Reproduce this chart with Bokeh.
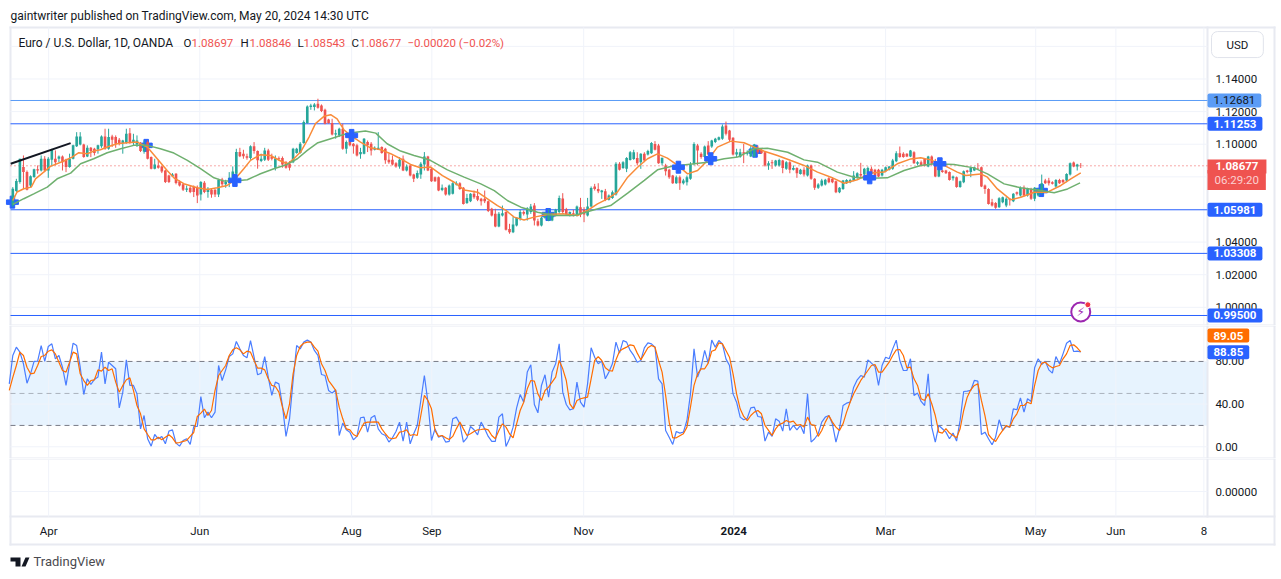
from bokeh.plotting import figure
from bokeh.layouts import column
from bokeh.models import Range1d, FixedTicker, LinearAxis, BoxAnnotation, Label, PolyAnnotation
from bokeh.embed import file_html
from bokeh.resources import INLINE

opens = [1.0625,1.0713,1.0768,1.0860,1.0829,1.0747,1.0799,1.0846,1.0839,1.0911,
1.0839,1.0905,1.0911,1.0911,1.0925,1.0907,1.0860,1.0911,1.0987,1.0999,
1.0999,1.0925,1.0978,1.0972,1.0968,1.0987,1.1048,1.0972,1.1048,1.1044,
1.1027,1.1007,1.1007,1.1068,1.1013,1.0999,1.1003,1.0956,1.1013,1.0921,
1.0850,1.0870,1.0864,1.0839,1.0809,1.0803,1.0819,1.0772,1.0754,1.0721,
1.0733,1.0737,1.0733,1.0692,1.0764,1.0707,1.0721,1.0721,1.0692,1.0784,
1.0754,1.0762,1.0768,1.0819,1.0952,1.0942,1.0927,1.0915,1.0987,1.0958,
1.0897,1.0905,1.0962,1.0921,1.0856,1.0915,1.0915,1.0890,1.0880,1.0890,
1.0946,1.0946,1.1007,1.1130,1.1228,1.1228,1.1248,1.1238,1.1211,1.1152,
1.1130,1.1060,1.1054,1.1095,1.0972,1.1048,1.1003,1.0993,1.0938,1.0942,
1.1013,1.1003,1.0966,1.0966,1.0983,1.0972,1.0905,1.0905,1.0884,1.0864,
1.0911,1.0839,1.0870,1.0815,1.0794,1.0815,1.0876,1.0925,
1.0849,1.0798,1.0798,1.0720,1.0733,1.0692,1.0696,1.0753,1.0761,1.0733,
1.0639,1.0651,1.0696,1.0682,1.0665,1.0665,1.0651,1.0604,1.0573,1.0496,
1.0563,1.0584,1.0481,1.0461,1.0502,1.0543,1.0584,1.0569,1.0584,1.0624,
1.0528,1.0502,1.0549,1.0532,1.0532,1.0563,1.0584,1.0667,1.0602,1.0563,
1.0577,1.0569,1.0614,1.0598,1.0563,1.0618,1.0741,1.0726,1.0706,1.0712,
1.0659,1.0671,1.0692,1.0880,1.0855,1.0849,1.0904,1.0910,1.0915,1.0890,
1.0941,1.0937,1.0945,1.1002,1.0992,1.0884,1.0870,1.0843,1.0808,1.0761,
1.0798,1.0761,1.0767,1.0788,1.0880,1.0992,1.0941,1.0921,1.0992,1.0986,
1.1013,1.1027,1.1033,1.1115,1.1084,1.1039,1.0937,1.0921,1.0951,1.0941,
1.0925,1.0925,1.0978,1.0966,1.0951,1.0870,1.0890,1.0870,1.0870,1.0900,
1.0849,1.0890,1.0843,1.0855,1.0818,1.0843,1.0808,1.0870,1.0788,1.0733,
1.0747,1.0753,
1.0792,1.0788,1.0773,1.0706,1.0726,1.0761,1.0767,1.0777,1.0794,1.0818,
1.0814,1.0818,1.0849,1.0843,1.0843,1.0808,1.0835,1.0843,1.0849,1.0896,
1.0945,1.0941,1.0941,1.0925,1.0951,1.0880,1.0890,1.0910,1.0863,1.0925,
1.0880,1.0802,1.0839,1.0839,1.0829,1.0792,1.0798,1.0737,1.0767,1.0839,
1.0829,1.0839,1.0855,1.0859,1.0747,1.0726,1.0645,1.0639,1.0614,1.0645,
1.0624,1.0665,1.0651,1.0706,1.0686,1.0733,1.0686,1.0726,1.0665,1.0686,
1.0700,1.0777,1.0777,1.0767,1.0741,1.0781,1.0781,1.0777,1.0814,1.0888,
1.0863,1.08697]

highs = [1.0737,1.0788,1.0911,1.0931,1.0839,1.0809,1.0850,1.0870,1.0931,1.0927,
1.0921,1.0972,1.0962,1.0931,1.0931,1.0911,1.0942,1.0997,1.1074,1.1074,
1.1003,1.0993,1.0983,1.0978,1.0997,1.1054,1.1095,1.1095,1.1058,1.1054,
1.1038,1.1027,1.1095,1.1099,1.1064,1.1054,1.1013,1.1023,1.1023,1.0925,
1.0911,1.0905,1.0870,1.0843,1.0813,1.0823,1.0823,1.0778,1.0762,1.0747,
1.0747,1.0747,1.0747,1.0774,1.0774,1.0737,1.0727,1.0725,1.0788,1.0794,
1.0782,1.0829,1.0864,1.0972,1.0978,1.0966,1.0942,1.0993,1.1013,1.0962,
1.0942,1.0978,1.0972,1.0942,1.0931,1.0925,1.0925,1.0897,1.0897,1.0978,
1.0978,1.1013,1.1146,1.1238,1.1248,1.1252,1.1279,1.1244,1.1218,1.1156,
1.1156,1.1089,1.1101,1.1126,1.1023,1.1054,1.1007,1.1003,1.0978,1.1038,
1.1023,1.1013,1.0987,1.1074,1.0987,1.0978,1.0942,1.0931,1.0890,1.0921,
1.0931,1.0876,1.0876,1.0819,1.0839,1.0890,1.0952,1.0929,
1.0855,1.0802,1.0802,1.0753,1.0737,1.0753,1.0767,1.0773,1.0767,1.0737,
1.0696,1.0700,1.0716,1.0726,1.0671,1.0716,1.0655,1.0610,1.0604,1.0584,
1.0624,1.0588,1.0512,1.0553,1.0553,1.0598,1.0594,1.0614,1.0634,1.0639,
1.0543,1.0557,1.0584,1.0602,1.0584,1.0604,1.0685,1.0700,1.0610,1.0588,
1.0598,1.0624,1.0671,1.0614,1.0671,1.0741,1.0757,1.0761,1.0720,1.0726,
1.0692,1.0716,1.0890,1.0890,1.0896,1.0921,1.0958,1.0966,1.0951,1.0945,
1.0951,1.0966,1.1013,1.1019,1.1002,1.0917,1.0880,1.0849,1.0812,1.0808,
1.0808,1.0788,1.0808,1.0890,1.1012,1.1002,1.0951,1.0992,1.1019,1.1027,
1.1039,1.1047,1.1121,1.1139,1.1088,1.1043,1.0972,1.0972,1.1002,1.0962,
1.0992,1.1002,1.0992,1.0972,1.0958,1.0896,1.0904,1.0904,1.0911,1.0904,
1.0896,1.0896,1.0870,1.0859,1.0849,1.0859,1.0875,1.0875,1.0792,1.0761,
1.0788,1.0788,
1.0798,1.0798,1.0777,1.0737,1.0781,1.0786,1.0788,1.0835,1.0828,1.0886,
1.0855,1.0863,1.0863,1.0849,1.0849,1.0849,1.0863,1.0867,1.0910,1.0957,
1.0986,1.0951,1.0945,1.0965,1.0957,1.0896,1.0900,1.0914,1.0929,1.0931,
1.0910,1.0890,1.0843,1.0843,1.0833,1.0808,1.0802,1.0777,1.0839,1.0843,
1.0863,1.0863,1.0884,1.0863,1.0753,1.0730,1.0665,1.0645,1.0675,1.0679,
1.0675,1.0669,1.0700,1.0710,1.0741,1.0747,1.0733,1.0733,1.0737,1.0733,
1.0814,1.0788,1.0794,1.0773,1.0786,1.0788,1.0786,1.0822,1.0888,1.0894,
1.0880,1.08846]

lows = [1.0615,1.0707,1.0758,1.0727,1.0717,1.0737,1.0794,1.0819,1.0833,1.0829,
1.0794,1.0864,1.0870,1.0890,1.0839,1.0829,1.0856,1.0907,1.0983,1.0993,
1.0917,1.0921,1.0921,1.0931,1.0942,1.0978,1.0966,1.0966,1.0983,1.0978,
1.0993,1.0942,1.1003,1.1003,1.0993,1.0983,1.0952,1.0942,1.0907,1.0846,
1.0846,1.0850,1.0823,1.0762,1.0762,1.0799,1.0754,1.0741,1.0713,1.0707,
1.0700,1.0676,1.0639,1.0655,1.0700,1.0672,1.0672,1.0676,1.0676,1.0741,
1.0733,1.0737,1.0758,1.0809,1.0921,1.0911,1.0905,1.0905,1.0942,1.0850,
1.0890,1.0897,1.0897,1.0901,1.0839,1.0901,1.0856,1.0850,1.0839,1.0884,
1.0942,1.0942,1.1003,1.1126,1.1211,1.1207,1.1218,1.1197,1.1122,1.1126,
1.1054,1.1034,1.1044,1.0966,1.0942,1.0987,1.0942,1.0925,1.0911,1.0938,
1.0952,1.0931,1.0962,1.0966,1.0942,1.0880,1.0880,1.0870,1.0856,1.0850,
1.0835,1.0833,1.0803,1.0768,1.0788,1.0788,1.0839,1.0835,
1.0769,1.0769,1.0712,1.0712,1.0685,1.0685,1.0692,1.0747,1.0720,1.0630,
1.0634,1.0645,1.0665,1.0651,1.0624,1.0639,1.0584,1.0557,1.0491,1.0491,
1.0557,1.0471,1.0451,1.0455,1.0496,1.0532,1.0563,1.0532,1.0573,1.0502,
1.0496,1.0496,1.0543,1.0528,1.0528,1.0557,1.0573,1.0577,1.0563,1.0557,
1.0557,1.0557,1.0553,1.0522,1.0557,1.0614,1.0716,1.0700,1.0665,1.0651,
1.0655,1.0665,1.0685,1.0839,1.0849,1.0829,1.0900,1.0904,1.0870,1.0849,
1.0890,1.0931,1.0941,1.0962,1.0880,1.0870,1.0808,1.0788,1.0757,1.0757,
1.0720,1.0753,1.0747,1.0782,1.0870,1.0870,1.0911,1.0917,1.0931,1.0978,
1.1007,1.1023,1.1027,1.1054,1.1013,1.0931,1.0921,1.0917,1.0884,1.0931,
1.0921,1.0921,1.0941,1.0941,1.0863,1.0843,1.0849,1.0863,1.0863,1.0822,
1.0843,1.0822,1.0839,1.0794,1.0814,1.0802,1.0802,1.0782,1.0720,1.0726,
1.0741,1.0747,
1.0761,1.0761,1.0700,1.0700,1.0720,1.0757,1.0761,1.0773,1.0788,1.0798,
1.0808,1.0808,1.0798,1.0798,1.0798,1.0802,1.0828,1.0839,1.0843,1.0890,
1.0917,1.0917,1.0921,1.0921,1.0880,1.0870,1.0863,1.0863,1.0859,1.0870,
1.0798,1.0798,1.0825,1.0818,1.0777,1.0777,1.0733,1.0733,1.0761,1.0822,
1.0798,1.0835,1.0843,1.0737,1.0696,1.0630,1.0618,1.0604,1.0610,1.0638,
1.0614,1.0624,1.0645,1.0686,1.0679,1.0679,1.0679,1.0659,1.0651,1.0679,
1.0692,1.0757,1.0747,1.0753,1.0733,1.0757,1.0761,1.0767,1.0808,1.0859,
1.0839,1.08543]

closes = [1.0727,1.0774,1.0911,1.0829,1.0721,1.0803,1.0846,1.0839,1.0911,1.0839,
1.0911,1.0966,1.0890,1.0925,1.0890,1.0860,1.0911,1.0993,1.1048,1.1048,
1.0921,1.0978,1.0958,1.0946,1.0993,1.1048,1.0972,1.1044,1.1027,1.1003,
1.1003,1.1023,1.1064,1.1013,1.1027,1.1023,1.0958,1.0993,1.0911,1.0850,
1.0876,1.0856,1.0833,1.0768,1.0768,1.0815,1.0762,1.0747,1.0721,1.0729,
1.0707,1.0707,1.0686,1.0768,1.0707,1.0727,1.0692,1.0692,1.0782,1.0754,
1.0768,1.0794,1.0833,1.0952,1.0927,1.0927,1.0917,1.0987,1.0958,1.0901,
1.0911,1.0962,1.0905,1.0911,1.0913,1.0911,1.0876,1.0856,1.0856,1.0972,
1.0972,1.1003,1.1136,1.1232,1.1238,1.1244,1.1224,1.1203,1.1126,1.1130,
1.1060,1.1068,1.1095,1.0972,1.1013,1.0993,1.0987,1.0931,1.0952,1.1034,
1.0993,1.0962,1.0978,1.0978,1.0946,1.0901,1.0890,1.0876,1.0864,1.0905,
1.0839,1.0864,1.0809,1.0788,1.0823,1.0880,1.0925,1.0839,
1.0773,1.0773,1.0716,1.0733,1.0692,1.0747,1.0761,1.0761,1.0726,1.0634,
1.0671,1.0696,1.0675,1.0659,1.0651,1.0651,1.0590,1.0563,1.0496,1.0573,
1.0577,1.0475,1.0461,1.0508,1.0549,1.0584,1.0573,1.0608,1.0618,1.0532,
1.0502,1.0549,1.0577,1.0569,1.0577,1.0598,1.0671,1.0584,1.0569,1.0584,
1.0569,1.0618,1.0569,1.0569,1.0618,1.0731,1.0726,1.0712,1.0716,1.0659,
1.0685,1.0706,1.0880,1.0843,1.0890,1.0915,1.0951,1.0951,1.0884,1.0941,
1.0900,1.0958,1.1007,1.0966,1.0884,1.0917,1.0835,1.0798,1.0761,1.0798,
1.0761,1.0778,1.0798,1.0876,1.1002,1.0962,1.0921,1.0986,1.0937,1.1023,
1.1033,1.1043,1.1109,1.1064,1.1027,1.0937,1.0951,1.0951,1.0941,1.0951,
1.0972,1.0998,1.0951,1.0945,1.0870,1.0884,1.0884,1.0900,1.0904,1.0855,
1.0890,1.0843,1.0855,1.0822,1.0843,1.0814,1.0870,1.0788,1.0733,1.0753,
1.0778,1.0782,
1.0767,1.0767,1.0706,1.0733,1.0777,1.0781,1.0781,1.0808,1.0822,1.0808,
1.0849,1.0855,1.0818,1.0802,1.0802,1.0843,1.0859,1.0863,1.0900,1.0945,
1.0921,1.0921,1.0925,1.0961,1.0884,1.0890,1.0870,1.0870,1.0925,1.0880,
1.0802,1.0849,1.0829,1.0822,1.0781,1.0802,1.0737,1.0773,1.0835,1.0829,
1.0855,1.0859,1.0851,1.0741,1.0726,1.0634,1.0624,1.0610,1.0669,1.0675,
1.0665,1.0659,1.0696,1.0696,1.0733,1.0686,1.0726,1.0665,1.0733,1.0726,
1.0761,1.0761,1.0761,1.0757,1.0781,1.0761,1.0767,1.0818,1.0884,1.0863,
1.0876,1.08677]

fast_ma_bar = [0,1.2,3.1,5.2,6.4,8.7,10.6,14.4,16.7,18.6,21,22.8,24.7,26.6,29.4,32.2,35.1,37.9,40.7,43.5,45.4,48.2,52,54.8,57.6,60.4,62.3,65.1,67,69.8,72.6,75.5,77.5,79.2,81.1,83.5,85.3,87.7,89.6,91.4,93.3,95.2,98,100.8,103.7,106.5,109.3,112.1,114.9,117.8,
121.1,124.4,127.2,131,133.8,136.6,139,141.3,144.1,146.9,150.7,155.4,159.2,162,164.8,167.6,170.4,173.3,176.1,178.9,181.7,184.5,187.4,190.2,193,195.8,198.6,202.4,206.1,209,211.8,215.5,219.3,223,226.8,230.6,
234.3,238,241.8,245.6,249.3,253.1,255.9,258.7,262.5,266.2,268.6,272.8,274.7,277.5,281.3,284.1,287.9,291.6,295.4,298.2,301]
fast_ma = [1.0655,1.0707,1.0727,1.0737,1.0788,1.0829,1.0864,1.0897,1.0921,1.0948,1.0942,1.0958,1.0966,1.0983,1.1003,1.1009,1.1013,1.0983,1.0911,1.0839,1.0794,1.0758,1.0733,1.0723,1.0733,1.0747,1.0778,1.0850,1.0901,1.0936,1.0931,1.0897,1.0880,1.0911,1.0952,1.1044,1.1126,1.1171,1.1181,1.1156,1.1089,1.1054,1.1013,1.0978,1.0966,1.0942,1.0911,1.0876,1.0856,1.0860,
1.0808,1.0767,1.0720,1.0706,1.0665,1.0624,1.0594,1.0553,1.0536,1.0553,1.0569,1.0573,1.0563,1.0594,1.0634,1.0665,1.0706,1.0798,1.0859,1.0911,1.0941,1.0915,1.0870,1.0818,1.0839,1.0900,1.0982,1.1019,1.1009,1.0982,1.0957,1.0931,1.0900,1.0870,1.0829,1.0798,
1.0761,1.0782,1.0823,1.0829,1.0880,1.0910,1.0917,1.0904,1.0870,1.0829,1.0808,1.0818,1.0798,1.0726,1.0659,1.0675,1.0706,1.0706,1.0747,1.0788,1.0825]

slow_ma_bar = [0,3.1,5.9,9.7,12.5,16.3,19.1,22.8,26.6,30.4,34.1,37.9,41.6,45.4,49.2,52.9,56.7,59.5,62.3,66.1,69.8,73.6,77.3,80.2,83,85.8,89.6,93.3,96.1,99.4,102.3,105.5,109.3,113.1,116.4,
117.8,122.5,127.2,131.9,135.7,139.4,143.2,147.9,152.6,158.2,163.9,168.5,173.3,178,181.7,185.5,190.2,195.8,200.5,204.3,209,212.7,218.4,223,226.8,230.6,
232.4,237.1,241.8,246.5,251.2,255.9,259.7,265.3,270.9,274.7,279.4,284.1,288.8,293.5,297.3,300.8]
slow_ma = [1.0631,1.0666,1.0696,1.0737,1.0788,1.0823,1.0880,1.0911,1.0948,1.0972,1.0993,1.0993,1.0972,1.0946,1.0901,1.0850,1.0794,1.0774,1.0774,1.0782,1.0819,1.0850,1.0876,1.0911,1.0962,1.1007,1.1034,1.1060,1.1072,1.1081,1.1068,1.1003,1.0958,1.0931,1.0911,
1.0900,1.0843,1.0798,1.0757,1.0716,1.0655,1.0614,1.0583,1.0563,1.0563,1.0598,1.0624,1.0700,1.0778,1.0843,1.0863,1.0876,1.0890,1.0911,1.0921,1.0972,1.0976,1.0951,1.0904,1.0890,1.0849,
1.0829,1.0798,1.0792,1.0794,1.0839,1.0870,1.0880,1.0876,1.0855,1.0818,1.0757,1.0733,1.0720,1.0702,1.0726,1.0763]

stoch_k = [59,85.6,93.4,88.7,77.8,59.6,68.4,80,80.3,94.9,
80,94,96.5,82.4,85.6,74.6,57.5,77.8,97.1,94.9,
74.6,49,63.7,58.4,63.1,65.3,88.7,59,79.3,76.2,
73.1,36.5,51.2,81.5,57.5,57.5,49.6,16.8,29.3,7.5,
0.6,11.5,7.5,9.7,2.8,14.7,15.9,3.4,0.6,5.9,
7.5,2.2,19,19,47.1,27.2,32.5,27.2,32.5,76.2,
62.1,72.1,84.6,87.1,98.7,91.8,85.6,83.4,99.6,84,
67.5,69,84.6,65.3,48.1,60.6,59,38.7,9.7,26.2,
62,94.9,91.8,98.1,100,98.1,90.3,85.6,67.8,
66.8,52.8,50.3,53.4,10.6,22.2,15.9,13.7,6.5,9.7,
27.2,27.8,13.7,27.2,29.3,16.8,12.2,10.6,4.4,8.4,
14.3,23.1,5.3,23.1,2.8,12.2,20,43.4,66.8,41.8,
5.9,16.8,9,10.6,4.4,5,26.2,27.8,21.5,4.4,
8.4,19,15.9,11.2,23.1,16.8,9.7,5,5,27.8,
30.9,0.3,7.5,18.4,36.5,49,41.8,70,76.8,39.6,
31.8,57.5,67.5,46.5,70,77.8,96.5,51.2,39.6,34.6,
35.6,60.6,41.8,37.1,59,92.8,84,77.8,80.3,63.7,
70,77.8,98.1,87.8,99.6,98.1,90.3,85.6,79.3,80.9,
92.8,97.4,96.5,93.4,63.7,59,15.3,9,2.2,14.3,
12.8,13.7,24.6,49.6,91.8,65.3,74.6,90.3,78.4,100,
93.4,99.6,96.5,82.4,76.2,49.6,41.8,27.8,25.3,26.8,
36.5,37.1,28.4,27.8,5.3,13.7,9.7,26.2,24,14.7,
35.6,15.3,20,15.9,20,12.2,49.6,4.4,7.5,12.2,
23.1,27.8,
29.3,21.5,4.4,16.9,38.7,40.9,41.8,55.9,62.8,66.8,
65.3,81.5,78.4,75.3,57.5,76.2,84,82.5,91.8,100,
80.9,71.5,71.5,82.5,48.1,50.3,42.5,38.7,68.4,18.4,
4.4,20,16.9,13.7,7.5,12.8,5.3,24.7,51.8,52.2,
52.8,62.2,61.5,11.5,13.7,7.5,1.9,9,25.3,15.3,
19.1,18.4,35.6,34.7,45.9,32.5,45,42.5,74,82.5,
77.1,80.3,72.1,69,84.6,77.8,87.1,97.1,99.6,89.3,
89.6,88.85]

stoch_d = [52.8,65,76.2,88.7,85.6,74.6,68.4,69,76.2,84.6,85.6,
89.6,90.9,87.1,79.3,71.5,70,79.3,88.7,87.1,68.4,
62.1,57.5,62.1,62.8,72.1,70.9,74.6,71.5,73.1,60.6,
51.2,57.5,62.8,64.6,52.8,38.7,30.9,16.8,11.5,6.5,
6.5,9,6.5,9,11.2,8.4,3.4,4,5,5.9,
9.7,13.4,28.4,31.5,35.3,29.3,34,52.8,66.8,71.5,
76.2,85.6,90.9,92.8,90.9,87.1,89.6,88.7,80.9,73.7,
73.7,72.1,63.7,57.5,56.5,51.2,37.1,26.2,40.3,68.4,
85.6,94,97.1,98.1,98.1,93.4,89.6,77.8,71.5,62.1,
57.5,52.8,37.1,26.2,16.8,15.9,11.5,9.7,15.9,22.2,
23.1,23.1,23.4,23.1,16.8,12.2,8.4,7.5,8.4,13.7,
14.3,15.9,10.6,11.5,10.6,29.3,48.1,43.4,
35.6,15.3,9.7,10.6,8.4,6.8,9.7,16.8,23.1,16.8,
10.6,12.2,14.3,15.9,16.2,16.8,15.9,10.6,7.5,15.3,
21.5,18.4,12.2,8.4,21.5,34,41.8,54.3,62.1,61.5,
49.6,43.4,52.8,55.9,60.6,65.3,80.9,73.1,62.1,40.3,
35.6,43.4,45,45.9,46.5,63.7,80.9,84.6,80.9,74,
71.5,70.9,81.5,89.6,91.8,93.4,95.6,94.9,87.8,81.5,
87.1,92.8,94.9,93.4,80.9,70,48.1,23.1,8.4,8.4,
10.3,12.2,18.4,37.1,57.5,68.4,73.1,73.1,78.4,89.6,
90.9,97.4,96.5,90.3,84,68.4,49.6,35.6,28.4,24.6,
29.3,32.5,34,30.9,20,15.3,10.6,16.8,20.9,22.2,
24.6,23.1,24,20,20.9,18.4,27.8,20.9,20,9.7,
15.3,23.1,
29.3,23.1,18.4,15.3,21.5,32.5,41.8,49.7,55.9,62.2,
66.8,71.5,76.2,77.1,70,70,74.6,79.3,85.6,90.9,
91.2,85.6,74,74.6,63.7,57.5,45,43.4,49.7,40.3,
29.3,13.7,12.8,16.9,12.8,10.6,8.4,16.9,34,46.5,
53.4,57.5,59,43.4,29.3,11.5,7.5,5,10.6,15.3,
20,18.4,26.2,30.9,38.7,38.7,41.8,40.3,57.5,71.5,
78.4,79.3,76.2,74,75.3,76.2,82.5,87.1,95,95.6,
92.8,89.05]

time_ticks = [10.1,52.7,95.5,118.1,160.9,203.2,246,288.3,310.9,335.7]
time_labels = ["Apr","Jun","Aug","Sep","Nov","2024","Mar","May","Jun","8"]
price_ticks = [1.00,1.02,1.04,1.06,1.08,1.10,1.12,1.14,1.16]
hidden_price_ticks = [1.06,1.08,1.16]
levels = [1.12681,1.11253,1.05981,1.03308,0.99500]
last_price = 1.08677
trend_bars = [-0.6,16.3]
trend_prices = [1.0880,1.1007]
marks_back_bar = [-0.1,37.6,150.9,209.2,289.9]
marks_back = [1.0645,1.0993,1.0569,1.0957,1.0716]
marks_front_bar = [62.6,95.5,187.6,196.7,241.5,261.3]
marks_front = [1.0778,1.1054,1.0859,1.0911,1.0794,1.0880]
osc_ticks = [0,40,80]

GREEN, RED, BLUE = "#26a69a", "#ef5350", "#2962ff"
GRID, EDGE, TXT = "#f0f3fa", "#e8eaf1", "#131722"
FONT = "Roboto"
FS = "11.5px"
W = 1276
LEFT_BAR, SCALE_BAR = -0.65, 336.7
x_range = Range1d(-3.467, 356.17)

def make(h, y0, y1, pane_bottom, pane_top):
    p = figure(width=W, height=h, x_range=x_range, y_range=Range1d(y0, y1),
               output_backend="svg", toolbar_location=None, tools="",
               min_border_left=0, min_border_right=0, min_border_top=0, min_border_bottom=0,
               x_axis_location=None, y_axis_location=None)
    p.background_fill_color = "white"
    p.border_fill_color = "white"
    p.outline_line_color = None
    p.xgrid.visible = False
    p.ygrid.visible = False
    p.segment(time_ticks, [pane_bottom] * len(time_ticks), time_ticks, [pane_top] * len(time_ticks),
              line_color=GRID, line_width=1)
    return p

def hline(p, v, color, width=1, dash="solid", alpha=1.0):
    p.segment([LEFT_BAR], [v], [SCALE_BAR], [v], line_color=color, line_width=width, line_dash=dash, line_alpha=alpha)

def style_axis(ax, standoff):
    ax.axis_line_color = None
    ax.major_tick_line_color = None
    ax.minor_tick_line_color = None
    ax.major_tick_out = 0
    ax.major_tick_in = 0
    ax.minor_tick_out = 0
    ax.minor_tick_in = 0
    ax.major_label_standoff = standoff
    ax.major_label_text_font = FONT
    ax.major_label_text_font_size = FS
    ax.major_label_text_color = TXT

def right_axis(p, ticks, overrides):
    ax = LinearAxis(ticker=FixedTicker(ticks=ticks), major_label_overrides=overrides, fixed_location=SCALE_BAR)
    style_axis(ax, 8)
    p.add_layout(ax, "right")
    for t in ticks:
        hline(p, t, GRID)

def chip(p, y, text, bg, fg, pad, sx=1207, bold=True, border=None, radius=2):
    p.add_layout(Label(x=sx, x_units="screen", y=y, y_units="data", text=text, text_color=fg,
                       text_font=FONT, text_font_size=FS, text_font_style="bold" if bold else "normal",
                       text_baseline="middle", text_align="left", level="overlay",
                       background_fill_color=bg, padding=pad, border_radius=radius, border_line_color=border))

def scr_text(p, sx, sy, text, color=TXT, size=FS, style="normal"):
    p.add_layout(Label(x=sx, y=sy, x_units="screen", y_units="screen", text=text, text_color=color,
                       text_font=FONT, text_font_size=size, text_baseline="middle", text_align="left",
                       text_font_style=style, level="overlay"))

def scr_box(p, l, r, t, b, color=EDGE):
    p.add_layout(BoxAnnotation(left=l, right=r, top=t, bottom=b, left_units="screen", right_units="screen",
                               top_units="screen", bottom_units="screen", fill_color=color, fill_alpha=1,
                               line_alpha=0, level="underlay"))

# price pane
p1 = make(325, 0.98886, 1.18812, 0.98886, 1.17157)
labels = {v: f"{v:.5f}" for v in price_ticks}
for v in hidden_price_ticks:
    labels[v] = ""
right_axis(p1, price_ticks, labels)
for i, v in enumerate(levels):
    hline(p1, v, "#5b9cf6" if i == 0 else BLUE)
hline(p1, last_price, RED, dash="1 3")
p1.scatter(marks_back_bar, marks_back, marker="plus", size=12, color=BLUE)
bars = list(range(len(closes)))
colors = [GREEN if c >= o else RED for o, c in zip(opens, closes)]
p1.segment(bars, lows, bars, highs, color=colors, line_width=1)
p1.vbar(bars, 0.74, opens, closes, fill_color=colors, line_color=colors, line_width=0)
p1.line(fast_ma_bar, fast_ma, line_color="#f98c3a", line_width=1.5)
p1.line(slow_ma_bar, slow_ma, line_color="#6fb06f", line_width=1.5)
p1.line(trend_bars, trend_prices, line_color="#131722", line_width=2)
p1.scatter(marks_front_bar, marks_front, marker="plus", size=12, color=BLUE)
p1.scatter([301], [0.9972], marker="circle", size=19, fill_color="white", line_color="#9c27b0", line_width=2)
p1.add_layout(Label(x=301, y=0.9972, text="⚡", text_color="#9c27b0", text_font="DejaVu Sans", text_font_size="12px",
                    text_align="center", text_baseline="middle"))
p1.scatter([303], [1.0016], marker="circle", size=6, fill_color="#f23645", line_color="white", line_width=1)
chip(p1, levels[0], "1.12681", "#5b9cf6", TXT, (6, 3), bold=False)
for lvl in levels[1:]:
    chip(p1, lvl, f"{lvl:.5f}", BLUE, "white", (6, 3))
chip(p1, 1.0864, "1.08677", RED, "white", (8, 3), radius=0)
chip(p1, 1.0781, "06:29:20", RED, "#fbd0d0", (7, 3), bold=False, radius=0)
chip(p1, 1.1611, "USD", "white", TXT, (15, 6), sx=1211, bold=False, border="#e0e3eb", radius=6)
scr_text(p1, 10, 310, "gaintwriter published on TradingView.com, May 20, 2024 14:30 UTC", size="12px")
scr_text(p1, 18, 283, "Euro / U.S. Dollar, 1D, OANDA", size="12px")
for sx, s, c in [(183, "O", TXT), (191, "1.08697", RED), (240, "H", TXT), (249, "1.08846", RED),
                 (297, "L", TXT), (303, "1.08543", RED), (351, "C", TXT), (359, "1.08677", RED),
                 (407, "−0.00020 (−0.02%)", RED)]:
    scr_text(p1, sx, 283, s, color=c)
scr_box(p1, 9, 1275, 299, 297)
scr_box(p1, 9, 1275, 1, 0)
scr_box(p1, 9, 11, 299, 0)
scr_box(p1, 1206, 1208, 299, 0)
scr_box(p1, 1273, 1275, 299, 0)

# oscillator pane
p2 = make(133, -11.0, 113.7, -11.0, 113.7)
right_axis(p2, osc_ticks, {t: f"{t:.2f}" for t in osc_ticks})
p2.add_layout(BoxAnnotation(left=LEFT_BAR, right=SCALE_BAR, bottom=20, top=80, fill_color="#2196f3", fill_alpha=0.11,
                            line_alpha=0, level="underlay"))
for lvl, a in [(80, 1), (50, 0.55), (20, 1)]:
    hline(p2, lvl, "#787b86", dash="5 4", alpha=a)
k_x = [len(closes) - len(stoch_k) + i for i in range(len(stoch_k))]
d_x = [len(closes) - len(stoch_d) + i for i in range(len(stoch_d))]
p2.line(k_x, stoch_k, line_color="#4a7dff", line_width=1.2)
p2.line(d_x, stoch_d, line_color="#ff6d00", line_width=1.2)
chip(p2, 104.3, "89.05", "#ff6d00", "white", (6, 3))
chip(p2, 88.66, "88.85", BLUE, "white", (6, 3))
scr_box(p2, 9, 1275, 133, 132)
scr_box(p2, 9, 1275, 1, 0)
scr_box(p2, 9, 11, 133, 0)
scr_box(p2, 1206, 1208, 133, 0)
scr_box(p2, 1273, 1275, 133, 0)

# empty pane and time scale
p3 = make(121, -88, 33, -25, 33)
right_axis(p3, [0], {0: "0.00000"})
xax = LinearAxis(ticker=FixedTicker(ticks=time_ticks), fixed_location=-25,
                 major_label_overrides={t: ("" if s == "2024" else s) for t, s in zip(time_ticks, time_labels)})
style_axis(xax, 7)
p3.add_layout(xax, "below")
p3.add_layout(Label(x=time_ticks[5], y=49, y_units="screen", text="2024", text_color=TXT, text_font=FONT,
                    text_font_size=FS, text_font_style="bold", text_align="center", text_baseline="middle",
                    level="overlay"))
scr_text(p3, 33, 18, "TradingView", color="#4a4a4f", size="13px")
p3.add_layout(PolyAnnotation(xs=[10, 20, 20, 15, 15, 10], ys=[22, 22, 13, 13, 18, 18], xs_units="screen", ys_units="screen",
                             fill_color=TXT, fill_alpha=1, line_alpha=0, level="overlay"))
p3.add_layout(PolyAnnotation(xs=[25, 29, 25, 21], ys=[22, 22, 13, 13], xs_units="screen", ys_units="screen",
                             fill_color=TXT, fill_alpha=1, line_alpha=0, level="overlay"))
scr_box(p3, 9, 1275, 121, 120)
scr_box(p3, 9, 1275, 64, 62)
scr_box(p3, 9, 1275, 36, 34)
scr_box(p3, 9, 11, 121, 34)
scr_box(p3, 1206, 1208, 121, 62)
scr_box(p3, 1273, 1275, 121, 34)

layout = column(p1, p2, p3, spacing=0)
open("out.html", "w").write(file_html(layout, INLINE))
